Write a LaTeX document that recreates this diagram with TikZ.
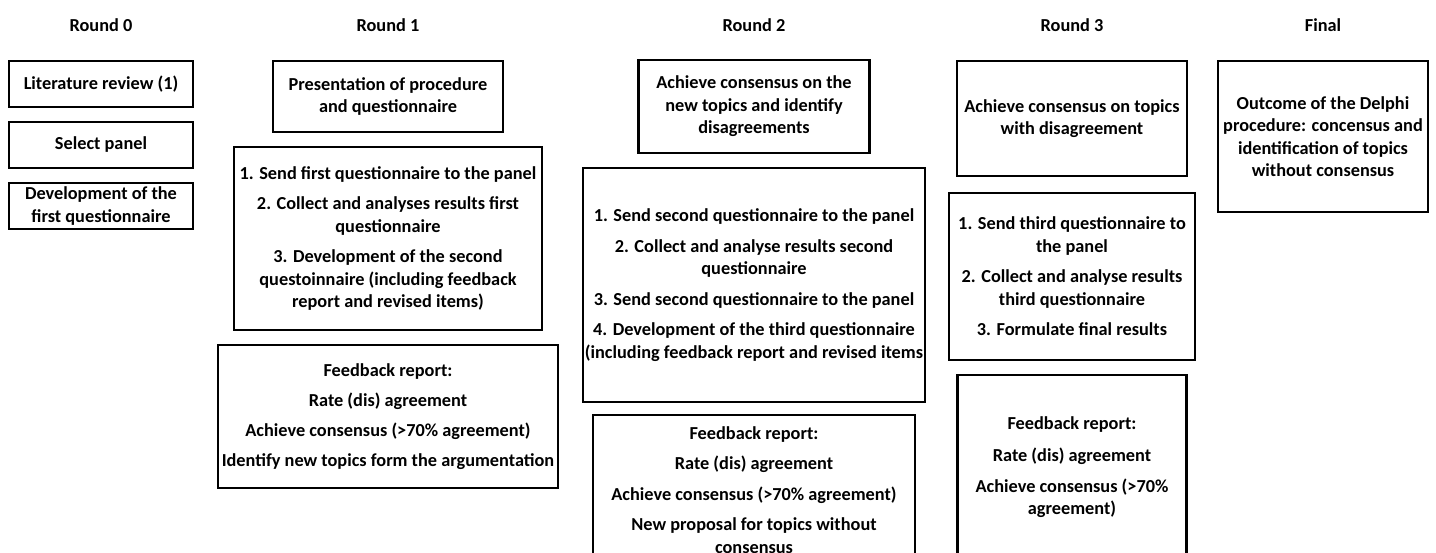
\documentclass[tikz,border=0pt]{standalone}
\usepackage{fontspec}
\setmainfont{Carlito}
\usetikzlibrary{positioning}
\tikzset{box/.style={draw,line width=2.8pt,outer sep=0pt,inner sep=2pt,align=center,anchor=north,
  font=\fontsize{18.3}{22.5}\selectfont\bfseries},
 head/.style={font=\fontsize{18.3}{22.5}\selectfont\bfseries},
 zero/.style={box,minimum width=184pt,minimum height=46pt}}

\begin{document}
\begin{tikzpicture}[x=1pt,y=-1pt,node distance=15pt]
\useasboundingbox (0,0) rectangle (1436,552);
\clip (0,0) rectangle (1436,552);
\node[head] (h0) at (101,25) {Round 0};
\node[head] (h1) at (388,25) {Round 1};
\node[head] (h2) at (754,25) {Round 2};
\node[head] (h3) at (1072,25) {Round 3};
\node[head] (hf) at (1323,25) {Final};
% Round 0
\node[zero] (lit) at (101,61) {Literature review (1)};
\node[zero,below=of lit] (panel) {Select panel};
\node[zero,below=of panel] (dev) {Development of the\\first questionnaire};
% Round 1
\node[box,minimum width=230pt,minimum height=71pt] (pres) at (388,61) {Presentation of procedure\\and questionnaire};
\node[box,minimum width=308pt,minimum height=183pt,below=of pres] (steps1) {1. Send first questionnaire to the panel\\[8pt]
 2. Collect and analyses results first\\questionnaire\\[8pt]
 3. Development of the second\\questoinnaire (including feedback\\report and revised items)};
\node[box,minimum width=340pt,minimum height=143pt,below=of steps1] (fb1) {Feedback report:\\[7.5pt]
 Rate (dis) agreement\\[7.5pt] Achieve consensus (>70\% agreement)\\[7.5pt]
 Identify new topics form the argumentation};
% Round 2
\node[box,minimum width=231pt,minimum height=93pt] (cons2) at (754,60) {Achieve consensus on the\\new topics and identify\\disagreements};
\node[box,minimum width=342pt,minimum height=234pt,below=of cons2] (steps2) {1. Send second questionnaire to the panel\\[8pt]
 2. Collect and analyse results second\\questionnaire\\[8pt]
 3. Send second questionnaire to the panel\\[8pt]
 4. Development of the third questionnaire\\(including feedback report and revised items};
\node[box,minimum width=322pt,minimum height=150pt,below=13pt of steps2] (fb2) {Feedback report:\\[8pt]
 Rate (dis) agreement\\[8pt] Achieve consensus (>70\% agreement)\\[8pt]
 New proposal for topics without\\consensus};
% Round 3
\node[box,minimum width=230pt,minimum height=115pt] (cons3) at (1072,61) {Achieve consensus on topics\\with disagreement};
\node[box,minimum width=246pt,minimum height=167pt,below=17pt of cons3] (steps3) {1. Send third questionnaire to\\the panel\\[8pt]
 2. Collect and analyse results\\third questionnaire\\[8pt]
 3. Formulate final results};
\node[box,minimum width=229pt,minimum height=184pt,below=of steps3] (fb3) {Feedback report:\\[10pt]
 Rate (dis) agreement\\[8pt] Achieve consensus (>70\%\\agreement)};
% Final
\node[box,minimum width=210pt,minimum height=151pt] (out) at (1323,61) {Outcome of the Delphi\\procedure: concensus and\\identification of topics\\without consensus};
\end{tikzpicture}
\end{document}
